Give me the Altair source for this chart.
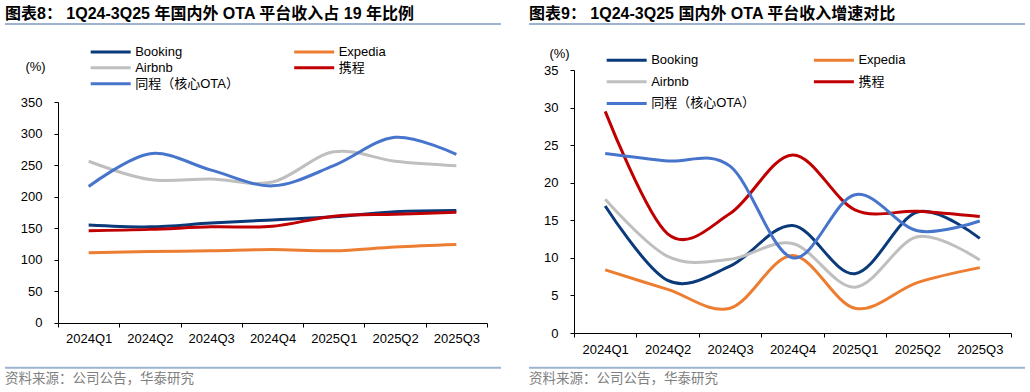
import altair as alt
import pandas as pd

quarters = ["2024Q1", "2024Q2", "2024Q3", "2024Q4", "2025Q1", "2025Q2", "2025Q3"]
companies = ["Booking", "Expedia", "Airbnb", "携程", "同程（核心OTA）"]
colors = ["#0A3A7A", "#ED7D31", "#BFBFBF", "#C00000", "#4775CC"]
# legend fills column by column: this order gives the two-column layout of the reference
legend_order = ["Booking", "Airbnb", "同程（核心OTA）", "Expedia", "携程"]

# Chart 8: revenue as % of 2019 level
ratio_booking = [155, 152, 158, 163, 168, 176, 178]
ratio_expedia = [111, 113, 114, 116, 114, 120, 124]
ratio_airbnb = [256, 227, 228, 223, 271, 256, 249]
ratio_ctrip = [146, 148, 152, 153, 169, 172, 175]
ratio_tongcheng = [216, 268, 242, 217, 249, 294, 267]

# Chart 9: revenue growth (%)
growth_booking = [16.9, 7.0, 8.9, 14.3, 7.9, 16.1, 12.6]
growth_expedia = [8.4, 5.8, 3.3, 10.3, 3.3, 6.7, 8.7]
growth_airbnb = [17.8, 10.2, 9.8, 11.9, 6.1, 12.8, 9.7]
growth_ctrip = [29.5, 13.2, 15.9, 23.7, 16.4, 16.2, 15.5]
growth_tongcheng = [23.9, 22.9, 22.2, 10.0, 18.4, 13.6, 14.9]

title_left = "图表8：  1Q24-3Q25 年国内外 OTA 平台收入占 19 年比例"
title_right = "图表9：  1Q24-3Q25 国内外 OTA 平台收入增速对比"
source_text = "资料来源：公司公告，华泰研究"
unit_text = "(%)"

LATIN = "Liberation Sans, Noto Sans CJK SC"
CJK = "Noto Sans CJK SC"
LEGEND_LINE = "M0,0H5.714"  # 40px line starting at the symbol centre (symbolSize 196)


def long_df(series):
    rows = []
    for name, vals in zip(companies, series):
        for q, v in zip(quarters, vals):
            rows.append({"quarter": q, "company": name, "value": v})
    return pd.DataFrame(rows)


def panel(series, ymax, ystep, width, height, yrange, title, lx, ly, rowpad, colpad,
          px, py, fx1, fx2, lab_pad):
    df = long_df(series)
    yscale = alt.Scale(domain=[0, ymax], nice=False, range=yrange)
    lines = alt.Chart(df).mark_line(interpolate="cardinal", strokeWidth=3).encode(
        x=alt.X("quarter:N", sort=quarters,
                scale=alt.Scale(type="band", paddingInner=0, paddingOuter=0),
                axis=alt.Axis(title=None, labelAngle=0, tickBand="extent", tickSize=4,
                              labelPadding=lab_pad, domainColor="black", tickColor="black",
                              labelColor="black", labelFont="Liberation Sans",
                              labelFontSize=13, grid=False)),
        y=alt.Y("value:Q", scale=yscale,
                axis=alt.Axis(values=list(range(0, ymax + 1, ystep)), tickSize=4,
                              labelPadding=12, domainColor="black", tickColor="black",
                              labelColor="black", labelFont="Liberation Sans",
                              labelFontSize=13, grid=False,
                              title=unit_text, titleAngle=0, titleX=px, titleY=py,
                              titleAlign="center", titleBaseline="middle",
                              titleFont="Liberation Sans", titleFontSize=13,
                              titleFontWeight="normal", titleColor="black")),
        color=alt.Color("company:N", scale=alt.Scale(domain=legend_order,
                                                     range=[colors[companies.index(c)] for c in legend_order]),
                        legend=alt.Legend(orient="none", legendX=lx, legendY=ly,
                                          columns=2, title=None, symbolType=LEGEND_LINE,
                                          symbolSize=196, symbolStrokeWidth=3,
                                          labelFont=LATIN, labelFontSize=13,
                                          labelColor="black", labelOffset=36,
                                          rowPadding=rowpad, columnPadding=colpad,
                                          padding=0)),
    )
    one = pd.DataFrame({"t": [title]})
    ttl = alt.Chart(one).mark_text(align="left", baseline="middle", fontSize=16,
                                   fontWeight="bold", font=LATIN, color="black").encode(
        x=alt.value(fx1), y=alt.value(-56), text="t:N")
    src_df = pd.DataFrame({"t": [source_text]})
    src = alt.Chart(src_df).mark_text(align="left", baseline="middle", fontSize=13.5,
                                      font=CJK, color="#808080").encode(
        x=alt.value(fx1), y=alt.value(309), text="t:N")
    rule_df = pd.DataFrame({"a": [0]})
    urule = alt.Chart(rule_df).mark_rule(color="#9DB3CF", strokeWidth=2).encode(
        x=alt.value(fx1), x2=alt.value(fx2), y=alt.value(-46))
    srule = alt.Chart(rule_df).mark_rule(color="#9DB3CF", strokeWidth=2).encode(
        x=alt.value(fx1), x2=alt.value(fx2), y=alt.value(297.7))
    return alt.layer(lines, ttl, urule, srule, src).properties(width=width, height=height)


left = panel([ratio_booking, ratio_expedia, ratio_airbnb, ratio_ctrip, ratio_tongcheng],
             350, 50, 429, 253, [252.7, 32], title_left, 24.2, -26.8, 0, 46.5,
             -23, -3.3, -53, 443, 5.5)
right = panel([growth_booking, growth_expedia, growth_airbnb, growth_ctrip, growth_tongcheng],
              35, 5, 437, 263, [263, 0], title_right, 24.2, -18.5, 5.7, 50.2,
              -15, -17, -45, 451, 6)

chart = alt.hconcat(left, right, spacing=26).resolve_scale(color="independent").resolve_legend(
    color="independent").configure_view(stroke=None).properties(
    padding={"left": 4, "top": 6, "right": 2, "bottom": 2})

chart.save("out.html", embed_options={"renderer": "svg", "actions": False})
